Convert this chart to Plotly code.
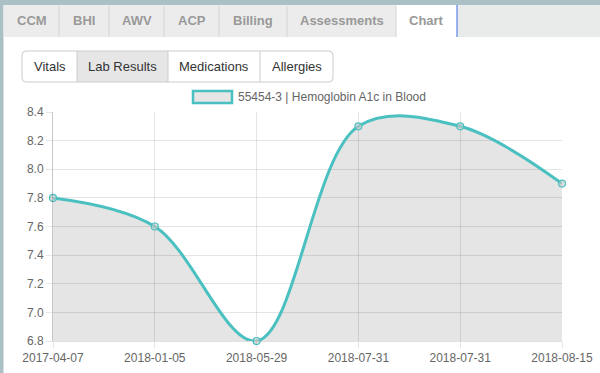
import plotly.graph_objects as go

# ---- data ----
dates = ["2017-04-07", "2018-01-05", "2018-05-29", "2018-07-31", "2018-07-31", "2018-08-15"]
values = [7.8, 7.6, 6.8, 8.3, 8.3, 7.9]
series_name = "55454-3 | Hemoglobin A1c in Blood"
y_ticks = [6.8, 7.0, 7.2, 7.4, 7.6, 7.8, 8.0, 8.2, 8.4]
main_tabs = ["CCM", "BHI", "AWV", "ACP", "Billing", "Assessments", "Chart"]
sub_tabs = ["Vitals", "Lab Results", "Medications", "Allergies"]

x_idx = list(range(len(dates)))

W, H = 600, 373
L, R, T, B = 53, 562, 112, 341  # plot area in pixels

def px(x):
    return (x - L) / (R - L)

def py(y):
    return (B - y) / (B - T)

TEAL = "rgb(75,192,192)"
FONT = "Liberation Sans, Arial, Helvetica, sans-serif"

fig = go.Figure()
fig.add_trace(go.Scatter(
    x=x_idx, y=values, mode="lines", line=dict(color=TEAL, width=3, shape="spline", smoothing=1.0),
    fill="tozeroy", fillcolor="rgba(0,0,0,0.1)", hoverinfo="skip", showlegend=False,
))
fig.add_trace(go.Scatter(
    x=x_idx, y=values, mode="markers", cliponaxis=False,
    marker=dict(size=7, color="rgba(200,200,200,0.6)", line=dict(color=TEAL, width=1.2)),
    hoverinfo="skip", showlegend=False,
))

shapes = []
annos = []

def rect(x0, y0, x1, y1, fill, line=None, lw=0, layer="above"):
    shapes.append(dict(type="rect", xref="paper", yref="paper",
                       x0=px(x0), x1=px(x1), y0=py(y1), y1=py(y0),
                       fillcolor=fill, line=dict(color=line or fill, width=lw), layer=layer))

def vline(x, y0, y1, color, w=1):
    shapes.append(dict(type="line", xref="paper", yref="paper",
                       x0=px(x), x1=px(x), y0=py(y0), y1=py(y1), line=dict(color=color, width=w)))

def text(x, y, s, size, color, bold=False, anchor="center"):
    annos.append(dict(xref="paper", yref="paper", x=px(x), y=py(y), text=(f"<b>{s}</b>" if bold else s),
                      showarrow=False, xanchor=anchor, yanchor="middle",
                      font=dict(family=FONT, size=size, color=color)))

# page frame
rect(0, 0, W, 5, "#abc0c5")
rect(0, 0, 3.5, H, "#abc0c5")
# tab bar
rect(3.5, 5, W, 37, "#e9eaea")
tab_edges = [5, 59, 109, 164, 219, 287, 396, 457]
for i, name in enumerate(main_tabs):
    x0, x1 = tab_edges[i], tab_edges[i + 1]
    if name == "Chart":
        rect(x0, 5, x1, 37.5, "#ffffff")
        vline(x1, 5, 37, "#5b84e6", 1.2)
    else:
        rect(x0, 5, x1, 37, "#ececec")
    text((x0 + x1) / 2, 20.5, name, 13, "#999999", bold=True)
for e in tab_edges[1:-1]:
    vline(e, 6, 37, "#d4d4d4")

# sub tabs (button group)
sub_edges = [22, 77, 168, 260, 333]
rect(77, 51, 168, 82, "#e6e6e6")
shapes.append(dict(type="path", xref="paper", yref="paper",
                   path=(f"M {px(26)} {py(51)} L {px(329)} {py(51)} Q {px(333)} {py(51)} {px(333)} {py(55)} "
                         f"L {px(333)} {py(78)} Q {px(333)} {py(82)} {px(329)} {py(82)} "
                         f"L {px(26)} {py(82)} Q {px(22)} {py(82)} {px(22)} {py(78)} "
                         f"L {px(22)} {py(55)} Q {px(22)} {py(51)} {px(26)} {py(51)} Z"),
                   line=dict(color="#cccccc", width=1), fillcolor="rgba(0,0,0,0)"))
for e in sub_edges[1:-1]:
    vline(e, 51, 82, "#cccccc")
for i, name in enumerate(sub_tabs):
    text((sub_edges[i] + sub_edges[i + 1]) / 2, 66.5, name, 13, "#333333")

# legend
rect(193, 91, 232, 103, "#e6e6e6", TEAL, 2.5)
text(236, 97, series_name, 12, "#666666", anchor="left")

fig.update_layout(
    width=W, height=H,
    margin=dict(l=L, r=W - R, t=T, b=H - B, autoexpand=False),
    paper_bgcolor="white", plot_bgcolor="white",
    font=dict(family=FONT, size=12, color="#666666"),
    shapes=shapes, annotations=annos, showlegend=False,
    xaxis=dict(range=[0, 5], tickmode="array", tickvals=x_idx, ticktext=dates,
               showgrid=True, gridcolor="rgba(0,0,0,0.1)", zeroline=False, automargin=False,
               showline=True, linecolor="rgba(0,0,0,0.12)", linewidth=1,
               ticks="outside", ticklen=6, tickcolor="rgba(0,0,0,0.1)",
               tickfont=dict(size=12, color="#666666"), fixedrange=True),
    yaxis=dict(range=[6.8, 8.4], tickmode="array", tickvals=y_ticks,
               ticktext=[f"{v:.1f}" for v in y_ticks], automargin=False,
               showgrid=True, gridcolor="rgba(0,0,0,0.1)", zeroline=False,
               showline=True, linecolor="rgba(0,0,0,0.22)", linewidth=1,
               ticks="outside", ticklen=6, tickcolor="rgba(0,0,0,0.1)",
               tickfont=dict(size=12, color="#666666"), fixedrange=True),
)

fig.write_html("out.html", config={"displayModeBar": False},
               post_script="document.body.style.margin='0';document.body.style.overflow='hidden';")
